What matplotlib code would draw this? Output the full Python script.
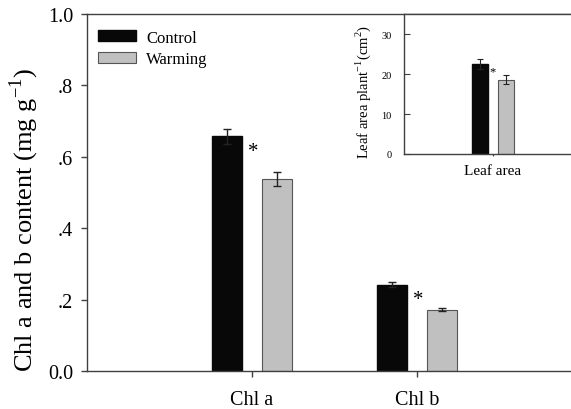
import matplotlib
matplotlib.use("Agg")
import matplotlib.pyplot as plt
import numpy as np

plt.rcParams["font.family"] = ["Liberation Serif", "DejaVu Serif"]
plt.rcParams["mathtext.fontset"] = "custom"
plt.rcParams["mathtext.rm"] = "Liberation Serif"

# main chart data
categories = ["Chl a", "Chl b"]
control = [0.657, 0.241]
control_err = [0.020, 0.007]
warming = [0.537, 0.171]
warming_err = [0.020, 0.004]

# inset data
inset_category = ["Leaf area"]
inset_control = [22.6]
inset_control_err = [1.3]
inset_warming = [18.6]
inset_warming_err = [1.2]

black = "#080808"
gray = "#c0c0c0"
spine_col = "#404040"


def main():
    fig = plt.figure(figsize=(5.71, 4.10), dpi=100)
    ax = fig.add_axes([0.1524, 0.0927, 0.867, 0.871])

    x = np.arange(1, len(categories) + 1)
    w = 0.182
    off = 0.150
    ax.bar(x - off, control, w, color=black, edgecolor=black, label="Control", zorder=2)
    ax.bar(x + off, warming, w, color=gray, edgecolor="#555555", linewidth=0.8,
           label="Warming", zorder=2)
    ax.errorbar(x - off, control, yerr=control_err, fmt="none", ecolor="#222222",
                elinewidth=1, capsize=3, capthick=1, zorder=3)
    ax.errorbar(x + off, warming, yerr=warming_err, fmt="none", ecolor="#222222",
                elinewidth=1, capsize=3, capthick=1, zorder=3)

    # significance stars
    for xi, c in zip(x, control):
        ax.text(xi + 0.01, c - 0.042, "*", ha="center", va="center", fontsize=15)

    ax.set_xlim(0, 3)
    ax.set_ylim(0, 1.0)
    ax.set_yticks([0, 0.2, 0.4, 0.6, 0.8, 1.0])
    ax.set_yticklabels(["0.0", ".2", ".4", ".6", ".8", "1.0"], fontsize=14.5)
    ax.set_xticks(x)
    ax.set_xticklabels(categories, fontsize=14.5)
    ax.tick_params(axis="both", direction="out", length=4, width=1, color=spine_col, pad=6)
    ax.tick_params(axis="x", pad=10)
    ax.set_ylabel("Chl a and b content (mg g$^{-1}$)", fontsize=19)
    ax.yaxis.set_label_coords(-0.093, 0.426)
    ax.spines["right"].set_visible(False)
    for s in ["left", "bottom", "top"]:
        ax.spines[s].set_color(spine_col)
        ax.spines[s].set_linewidth(1)

    ax.legend(loc="upper left", bbox_to_anchor=(0.022, 0.956), frameon=False, fontsize=12,
              handlelength=2.3, handleheight=0.65, handletextpad=0.6, labelspacing=0.33,
              borderaxespad=0, borderpad=0)

    # inset
    ins = fig.add_axes([0.7075, 0.622, 0.2925, 0.341])
    xi = 0.533
    iw = 0.093
    ioff = 0.078
    ins.bar(xi - ioff, inset_control, iw, color=black, edgecolor=black, zorder=2)
    ins.bar(xi + ioff, inset_warming, iw, color=gray, edgecolor="#555555", linewidth=0.8, zorder=2)
    ins.errorbar([xi - ioff], inset_control, yerr=inset_control_err, fmt="none",
                 ecolor="#222222", elinewidth=0.8, capsize=2, capthick=0.8, zorder=3)
    ins.errorbar([xi + ioff], inset_warming, yerr=inset_warming_err, fmt="none",
                 ecolor="#222222", elinewidth=0.8, capsize=2, capthick=0.8, zorder=3)
    ins.text(xi, inset_control[0] - 2.0, "*", ha="center", va="center", fontsize=9)
    ins.set_xlim(0, 1)
    ins.set_ylim(0, 35)
    ins.set_yticks([0, 10, 20, 30])
    ins.tick_params(axis="y", direction="in", length=4, labelsize=7.5, pad=9, color=spine_col)
    ins.set_xticks([xi])
    ins.set_xticklabels(inset_category, fontsize=11)
    ins.tick_params(axis="x", direction="out", length=1.5, pad=6, color=spine_col)
    ins.set_ylabel("Leaf area plant$^{-1}$(cm$^{2}$)", fontsize=10.5)
    ins.yaxis.set_label_coords(-0.186, 0.45)
    ins.spines["right"].set_visible(False)
    for s in ["left", "bottom", "top"]:
        ins.spines[s].set_color(spine_col)
        ins.spines[s].set_linewidth(1)

    fig.savefig("out.png", dpi=100)


if __name__ == "__main__":
    main()
